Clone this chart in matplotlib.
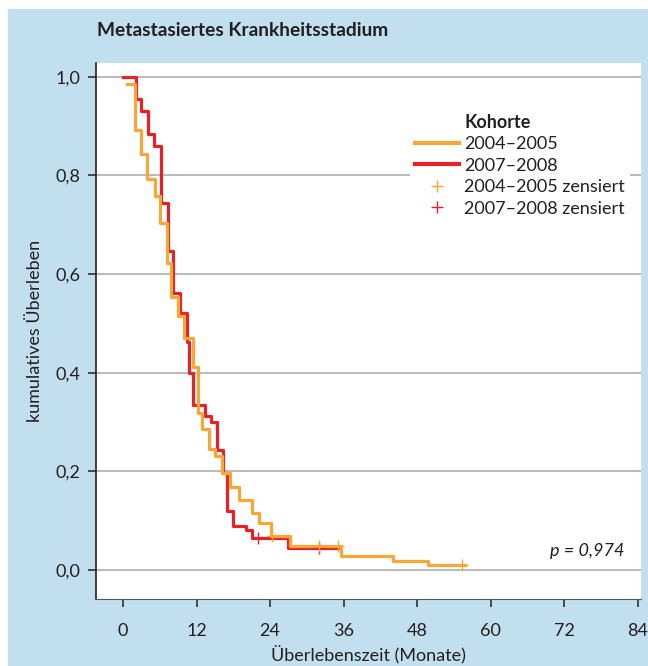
import matplotlib
matplotlib.use("Agg")
import matplotlib.pyplot as plt
from matplotlib.patches import Rectangle
from matplotlib.lines import Line2D

plt.rcParams['font.family'] = ['Lato', 'DejaVu Sans']

# Kaplan-Meier steps (time in months, survival after step)
t_0405 = [0.7, 2.0, 3.0, 4.0, 5.2, 6.1, 7.1, 7.8, 8.9, 10.0, 11.4, 12.2, 12.9,
          14.1, 15.0, 16.1, 17.5, 19.0, 21.0, 22.2, 24.1, 27.2, 35.5, 44.0, 49.7, 55.8]
s_0405 = [0.986, 0.893, 0.843, 0.792, 0.759, 0.703, 0.622, 0.553, 0.515, 0.471, 0.411,
          0.318, 0.285, 0.245, 0.231, 0.196, 0.169, 0.142, 0.116, 0.095, 0.068, 0.049,
          0.028, 0.019, 0.010, 0.010]

t_0708 = [0.0, 2.1, 3.0, 4.1, 5.1, 6.2, 7.3, 8.2, 9.3, 10.4, 10.8, 11.5, 13.4, 14.4,
          15.4, 16.3, 16.9, 18.0, 20.1, 21.0, 27.0, 35.1]
s_0708 = [1.0, 0.955, 0.930, 0.884, 0.859, 0.745, 0.646, 0.561, 0.521, 0.463, 0.400,
          0.335, 0.312, 0.299, 0.243, 0.196, 0.120, 0.089, 0.080, 0.064, 0.044, 0.044]

# censored observations
c_0405_t = [24.3, 32.0, 35.1, 55.3]
c_0405_s = [0.068, 0.049, 0.049, 0.010]
c_0708_t = [22.1, 32.0]
c_0708_s = [0.064, 0.044]

x_ticks = [0, 12, 24, 36, 48, 60, 72, 84]
y_ticks = [0.0, 0.2, 0.4, 0.6, 0.8, 1.0]
y_labels = ['0,0', '0,2', '0,4', '0,6', '0,8', '1,0']

orange = '#f7a738'
red = '#e62129'
blue = '#c2dff0'
txt = '#231f20'
fs = 13

fig = plt.figure(figsize=(6.48, 6.66), dpi=100)
fig.patches.append(Rectangle((8 / 648, 0), 1, (666 - 9) / 666,
                             transform=fig.transFigure, color=blue, zorder=-10))
fig.text(97 / 648, 1 - 30 / 666, 'Metastasiertes Krankheitsstadium',
         fontsize=13.8, fontweight='bold', color=txt, va='center', ha='left')

ax = fig.add_axes([96 / 648, 1 - 599 / 666, 545 / 648, 536 / 666])
ax.set_facecolor('white')

ax.step(t_0708, s_0708, where='post', color=red, lw=2.3, zorder=3)
ax.step(t_0405, s_0405, where='post', color=orange, lw=2.3, zorder=4)
ax.plot(c_0708_t, c_0708_s, '+', color=red, ms=9, mew=1.0, zorder=5)
ax.plot(c_0405_t, c_0405_s, '+', color=orange, ms=9, mew=1.0, zorder=5)

ax.set_xlim(-4.4, 84.5)
ax.set_ylim(-0.059, 1.028)
ax.set_xticks(x_ticks)
ax.set_yticks(y_ticks)
ax.set_yticklabels(y_labels)
ax.yaxis.grid(True, color='#b3b3b3', lw=1.3)
ax.set_axisbelow(True)

for side in ['top', 'right']:
    ax.spines[side].set_visible(False)
ax.spines['left'].set_color(txt)
ax.spines['left'].set_linewidth(1.2)
ax.spines['bottom'].set_color('#555555')
ax.spines['bottom'].set_linewidth(0.8)
ax.tick_params(axis='both', direction='out', length=6, width=1.1, color=txt,
               labelsize=fs, labelcolor=txt)
ax.tick_params(axis='x', pad=11)
ax.tick_params(axis='y', pad=5)

ax.set_xlabel('Überlebenszeit (Monate)', fontsize=fs, color=txt, labelpad=5)
ax.set_ylabel('kumulatives Überleben', fontsize=fs, color=txt, labelpad=9)

ax.text(81.8, 0.038, 'p = 0,974', fontsize=fs, style='italic', color=txt,
        ha='right', va='center')

handles = [
    Line2D([], [], color='none'),
    Line2D([], [], color=orange, lw=3),
    Line2D([], [], color=red, lw=3),
    Line2D([], [], color=orange, marker='+', ls='none', ms=9, mew=1.0),
    Line2D([], [], color=red, marker='+', ls='none', ms=9, mew=1.0),
]
labels = ['Kohorte', '2004–2005', '2007–2008', '2004–2005 zensiert', '2007–2008 zensiert']
leg = ax.legend(handles, labels, loc='upper left', bbox_to_anchor=(0.576, 0.915),
                fontsize=fs, frameon=True, facecolor='white', edgecolor='none',
                framealpha=1, fancybox=False, handlelength=2.4, handletextpad=0.3,
                labelspacing=0.3, borderpad=0.3, borderaxespad=0)
for t in leg.get_texts():
    t.set_color(txt)
leg.get_texts()[0].set_fontweight('bold')
leg.set_zorder(6)

fig.savefig('out.png', dpi=100)
